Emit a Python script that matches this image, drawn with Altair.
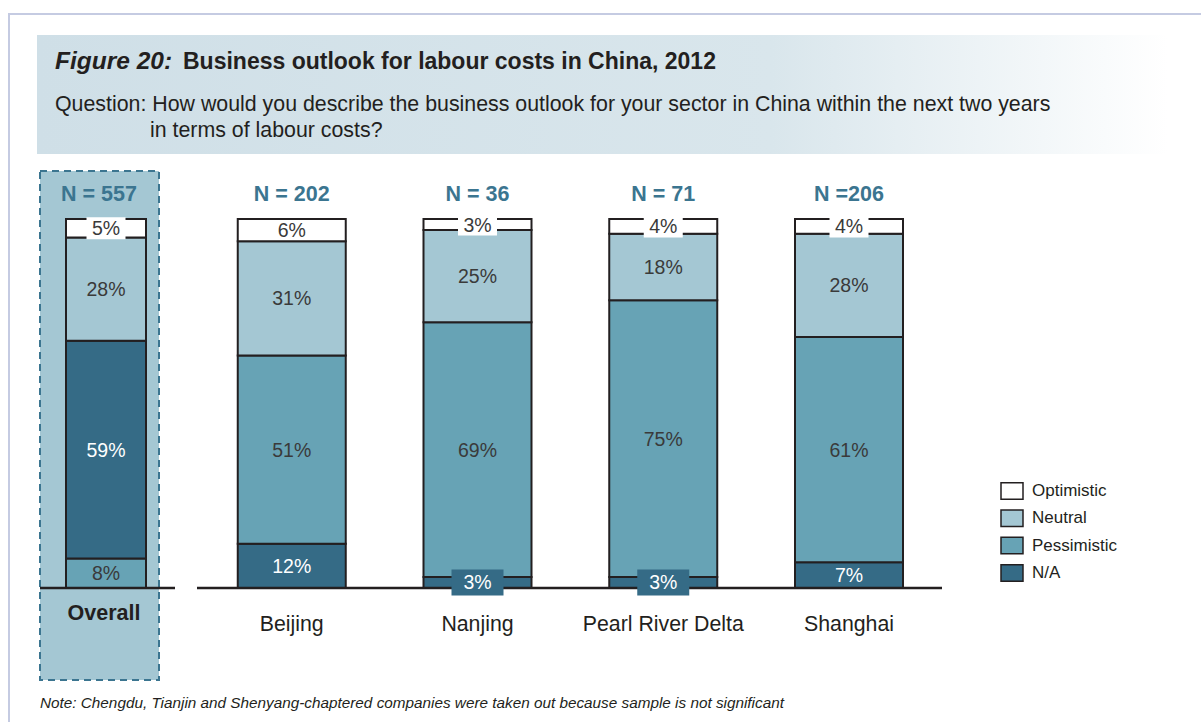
import altair as alt
import pandas as pd

# ---- data ----
categories = ["Overall", "Beijing", "Nanjing", "Pearl River Delta", "Shanghai"]
n_labels = ["N = 557", "N = 202", "N = 36", "N = 71", "N =206"]
series = ["N/A", "Pessimistic", "Neutral", "Optimistic"]  # bottom -> top
na = [8, 12, 3, 3, 7]
pessimistic = [59, 51, 69, 75, 61]
neutral = [28, 31, 25, 18, 28]
optimistic = [5, 6, 3, 4, 4]
# shading used in the original for the Overall bar (its two lower segments are drawn swapped)
overall_shades = {"N/A": "Pessimistic", "Pessimistic": "N/A", "Neutral": "Neutral", "Optimistic": "Optimistic"}

legend_order = ["Optimistic", "Neutral", "Pessimistic", "N/A"]
legend_colors = ["#ffffff", "#a4c7d3", "#67a3b5", "#356b86"]

FONT = "Liberation Sans"
DARK = "#231f20"

values = {"N/A": na, "Pessimistic": pessimistic, "Neutral": neutral, "Optimistic": optimistic}
rows = []
for i, c in enumerate(categories):
    for k, s in enumerate(series):
        shade = overall_shades[s] if c == "Overall" else s
        rows.append({"category": c, "series": s, "shade": shade, "order": k,
                     "value": values[s][i], "label": f"{values[s][i]}%"})
df = pd.DataFrame(rows)
cat_df = pd.DataFrame({"category": categories, "n": n_labels})

W, H = 1201, 722
xscale = alt.Scale(domain=categories, range=[13.125, 941.875], paddingInner=0, paddingOuter=0)
yscale = alt.Scale(domain=[-36.31, 159.35], zero=False, nice=False)
X = alt.X("category:N", scale=xscale, axis=None)

# ---- decorations ----
page_border = alt.Chart(pd.DataFrame({"a": [0]})).mark_rect(
    fill=None, stroke="#c5cbe2", strokeWidth=2
).encode(x=alt.value(9), x2=alt.value(1240), y=alt.value(14), y2=alt.value(760))

header = alt.Chart(pd.DataFrame({"a": [0]})).mark_rect(
    color=alt.Gradient(gradient="linear", x1=0, x2=1, y1=0, y2=0,
                       stops=[alt.GradientStop(color="#cfdfe7", offset=0),
                              alt.GradientStop(color="#d9e6ec", offset=0.65),
                              alt.GradientStop(color="#ffffff", offset=1)])
).encode(x=alt.value(37), x2=alt.value(1168), y=alt.value(35), y2=alt.value(154))

highlight = alt.Chart(pd.DataFrame({"a": [0]})).mark_rect(
    fill="#a4c7d3", stroke="#3b7590", strokeWidth=2, strokeDash=[7, 5]
).encode(x=alt.value(40), x2=alt.value(159), y=alt.value(171), y2=alt.value(680))

def txt(s, x, y, size, weight="normal", style="normal", color=DARK, align="left"):
    return alt.Chart(pd.DataFrame({"t": [s]})).mark_text(
        font=FONT, fontSize=size, fontWeight=weight, fontStyle=style, color=color,
        align=align, baseline="middle"
    ).encode(text="t:N", x=alt.value(x), y=alt.value(y))

title1 = txt("Figure 20:", 55, 62, 24.5, "bold", "italic")
title2 = txt("Business outlook for labour costs in China, 2012", 183, 62, 23, "bold")
q1 = txt("Question: How would you describe the business outlook for your sector in China within the next two years",
         55, 105, 21.35)
q2 = txt("in terms of labour costs?", 150, 130.5, 21.35)
note = txt("Note: Chengdu, Tianjin and Shenyang-chaptered companies were taken out because sample is not significant",
           40, 703, 15.3, style="italic")

# ---- bars ----
stacked = alt.Chart(df).transform_stack(
    stack="value", groupby=["category"], sort=[alt.SortField("order")], as_=["y0", "y1"]
).transform_calculate(mid="(datum.y0 + datum.y1) / 2")

color_enc = alt.Color(
    "shade:N",
    scale=alt.Scale(domain=legend_order, range=legend_colors),
    legend=alt.Legend(
        title=None, orient="none", legendX=1000, legendY=479,
        symbolType="M-1,-0.75H1V0.75H-1Z", symbolSize=484,
        symbolStrokeColor=DARK, symbolStrokeWidth=1.5, symbolOpacity=1,
        labelFont=FONT, labelFontSize=17, labelColor=DARK, labelOffset=8,
        rowPadding=3.3, values=legend_order,
    ),
)

bars_main = stacked.transform_filter("datum.category !== 'Overall'").mark_bar(
    width=108, stroke=DARK, strokeWidth=2, opacity=1
).encode(x=X, y=alt.Y("y0:Q", scale=yscale, axis=None), y2="y1:Q", color=color_enc)

bars_overall = stacked.transform_filter("datum.category === 'Overall'").mark_bar(
    width=80, stroke=DARK, strokeWidth=2, opacity=1
).encode(x=X, y=alt.Y("y0:Q", scale=yscale, axis=None), y2="y1:Q", color=color_enc)

base_overall = alt.Chart(pd.DataFrame({"a": [0]})).mark_rule(color=DARK, strokeWidth=2.5).encode(
    x=alt.value(40), x2=alt.value(175), y=alt.Y("a:Q", scale=yscale, axis=None))
base_main = alt.Chart(pd.DataFrame({"a": [0]})).mark_rule(color=DARK, strokeWidth=2.5).encode(
    x=alt.value(197), x2=alt.value(942), y=alt.Y("a:Q", scale=yscale, axis=None))

# label boxes for the small segments
box_opt = stacked.transform_filter("datum.value <= 5 && datum.shade === 'Optimistic'").transform_calculate(
    lo="datum.mid - 3.0", hi="datum.mid + 3.0"
).mark_bar(width=39, fill="#ffffff").encode(
    x=X, y=alt.Y("lo:Q", scale=yscale, axis=None), y2="hi:Q")
box_na = stacked.transform_filter("datum.value <= 5 && datum.shade === 'N/A'").transform_calculate(
    lo="datum.mid - 3.5", hi="datum.mid + 3.5"
).mark_bar(width=52, fill="#356b86").encode(
    x=X, y=alt.Y("lo:Q", scale=yscale, axis=None), y2="hi:Q")

labels = stacked.mark_text(font=FONT, fontSize=19.5, baseline="middle", dy=1).encode(
    x=X, y=alt.Y("mid:Q", scale=yscale, axis=None), text="label:N",
    color=alt.condition("datum.shade === 'N/A'", alt.value("#ffffff"), alt.value("#3a3a3a")),
)

n_main = alt.Chart(cat_df).transform_filter("datum.category !== 'Overall'").mark_text(
    font=FONT, fontSize=21.5, fontWeight="bold", color="#3b7590", baseline="middle"
).encode(x=X, y=alt.value(195), text="n:N")
n_overall = alt.Chart(cat_df).transform_filter("datum.category === 'Overall'").mark_text(
    font=FONT, fontSize=21.5, fontWeight="bold", color="#3b7590", baseline="middle", dx=-7
).encode(x=X, y=alt.value(195), text="n:N")

cat_main = alt.Chart(cat_df).transform_filter("datum.category !== 'Overall'").mark_text(
    font=FONT, fontSize=21.3, color=DARK, baseline="middle"
).encode(x=X, y=alt.value(625), text="category:N")
cat_overall = alt.Chart(cat_df).transform_filter("datum.category === 'Overall'").mark_text(
    font=FONT, fontSize=21.5, fontWeight="bold", color=DARK, baseline="middle", dx=-2
).encode(x=X, y=alt.value(614), text="category:N")

chart = alt.layer(
    page_border, header, highlight, title1, title2, q1, q2, note,
    bars_main, bars_overall, base_overall, base_main, box_opt, box_na, labels,
    n_main, n_overall, cat_main, cat_overall,
).properties(
    width=W, height=H, padding=0, autosize=alt.AutoSizeParams(type="none"),
    background="#ffffff",
).configure_view(stroke=None)

chart.save("out.html", embed_options={"renderer": "svg", "actions": False})
